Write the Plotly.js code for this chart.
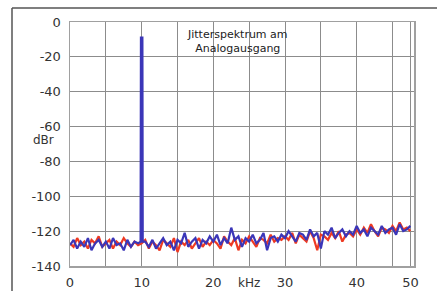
<!DOCTYPE html>
<html>
<head>
<meta charset="utf-8">
<script src="https://cdn.plot.ly/plotly-3.0.1.min.js"></script>
<style>
html,body{margin:0;padding:0;background:#fff;}
#chart{width:437px;height:291px;}
</style>
</head>
<body>
<div id="chart"></div>
<script>
// Frequency bins (kHz) and levels (dBr)
const freqRed = [0,0.5,1,1.5,2,2.5,3,3.5,4,4.5,5,5.5,6,6.5,7,7.5,8,8.5,9,9.5,
  10,10.5,11,11.5,12,12.5,13,13.5,14,14.5,15,15.5,16,16.5,17,17.5,18,18.5,19,19.5,
  20,20.5,21,21.5,22,22.5,23,23.5,24,24.5,25,25.5,26,26.5,27,27.5,28,28.5,29,29.5,
  30,30.5,31,31.5,32,32.5,33,33.5,34,34.5,35,35.5,36,36.5,37,37.5,38,38.5,39,39.5,
  40,40.5,41,41.5,42,42.5,43,43.5,44,44.5,45,45.5,46,46.5,47,47.5];
const levelRed = [-127,-129,-124,-128,-126,-130,-125,-127,-123,-129,-127,-125,-130,-126,-128,-124,-127,-129,-126,-128,
  -127,-125,-130,-126,-128,-131,-125,-127,-129,-124,-132,-126,-128,-125,-130,-127,-124,-129,-126,-128,
  -125,-127,-130,-123,-126,-128,-124,-131,-125,-127,-123,-126,-129,-124,-125,-127,-122,-126,-124,-125,
  -123,-125,-121,-127,-122,-124,-126,-120,-124,-131,-122,-123,-125,-121,-124,-120,-126,-122,-121,-123,
  -119,-122,-118,-121,-116,-120,-123,-118,-119,-121,-117,-120,-115,-119,-118,-120];

const freqBlue = [0,0.5,1,1.5,2,2.5,3,3.5,4,4.5,5,5.5,6,6.5,7,7.5,8,8.5,9,9.5,
  9.85,9.9,10.1,10.15,10.5,11,11.5,12,12.5,13,13.5,14,14.5,15,15.5,16,16.5,17,17.5,18,18.5,19,19.5,
  20,20.5,21,21.5,22,22.5,23,23.5,24,24.5,25,25.5,26,26.5,27,27.5,28,28.5,29,29.5,
  30,30.5,31,31.5,32,32.5,33,33.5,34,34.5,35,35.5,36,36.5,37,37.5,38,38.5,39,39.5,
  40,40.5,41,41.5,42,42.5,43,43.5,44,44.5,45,45.5,46,46.5,47,47.5];
const levelBlue = [-128,-125,-130,-126,-129,-124,-131,-127,-125,-129,-126,-130,-124,-128,-127,-131,-125,-129,-126,-127,
  -126,-9,-9,-126,-126,-129,-125,-130,-127,-124,-128,-126,-131,-125,-127,-121,-129,-126,-124,-130,-125,-127,-123,
  -126,-122,-128,-124,-127,-118,-125,-123,-129,-124,-126,-122,-127,-125,-121,-131,-124,-123,-126,-122,
  -124,-120,-123,-126,-121,-122,-125,-119,-123,-121,-130,-120,-122,-118,-124,-121,-119,-123,-120,-122,
  -117,-121,-119,-123,-118,-120,-122,-117,-121,-119,-118,-122,-116,-120,-119,-117];

const yTicks = [0,-20,-40,-60,-80,-100,-120,-140];
const yTickText = ['0','-20','-40','-60','-80','-100','-120','-140'];
const xTickVals = [0,5,10,15,20,25,30,35,40,45,47.5];
const xTickText = ['0','','10','','20','','30','','40','','50'];

const traces = [
  {x: freqRed, y: levelRed, type:'scatter', mode:'lines', line:{color:'#ee3a22', width:2.2}, hoverinfo:'skip'},
  {x: freqBlue, y: levelBlue, type:'scatter', mode:'lines', line:{color:'#3b36b8', width:2.2}, hoverinfo:'skip'}
];

const tickFont = {family:'DejaVu Sans', size:13, color:'#333'};

const layout = {
  width:437, height:291,
  margin:{l:70, r:23, t:22, b:25},
  paper_bgcolor:'#fff', plot_bgcolor:'#fff',
  showlegend:false,
  xaxis:{range:[0,48], tickmode:'array', tickvals:xTickVals, ticktext:xTickText,
    showgrid:true, gridcolor:'#8c8c8c', gridwidth:1, zeroline:false,
    showline:true, mirror:true, linecolor:'#a0a0a0', linewidth:1.5,
    ticks:'', ticklabelstandoff:4, tickfont:tickFont, fixedrange:true},
  yaxis:{range:[-140,0], tickmode:'array', tickvals:yTicks, ticktext:yTickText,
    showgrid:true, gridcolor:'#8c8c8c', gridwidth:1, zeroline:false,
    showline:true, mirror:true, linecolor:'#a0a0a0', linewidth:1.5,
    ticks:'', ticklabelstandoff:5, tickfont:tickFont, fixedrange:true},
  annotations:[
    {text:'Jitterspektrum am<br>Analogausgang', xref:'paper', yref:'paper', x:0.486, y:0.922,
     xanchor:'center', yanchor:'middle', showarrow:false,
     font:{family:'DejaVu Sans', size:11, color:'#222'}},
    {text:'dBr', xref:'paper', yref:'paper', x:-0.076, y:0.516, xanchor:'center', yanchor:'middle',
     showarrow:false, font:{family:'DejaVu Sans', size:12, color:'#333'}},
    {text:'kHz', xref:'paper', yref:'paper', x:0.52, y:-0.068, xanchor:'center', yanchor:'middle',
     showarrow:false, font:{family:'DejaVu Sans', size:12, color:'#333'}}
  ],
  shapes:[
    {type:'line', xref:'paper', yref:'paper', x0:-0.1686, x1:-0.1686, y0:1.0574, y1:-0.11,
     line:{color:'#555', width:1.5}},
    {type:'line', xref:'paper', yref:'paper', x0:-0.1686, x1:1.07, y0:1.0574, y1:1.0574,
     line:{color:'#555', width:1.5}}
  ]
};

Plotly.newPlot('chart', traces, layout, {staticPlot:true, displayModeBar:false});
</script>
</body>
</html>
